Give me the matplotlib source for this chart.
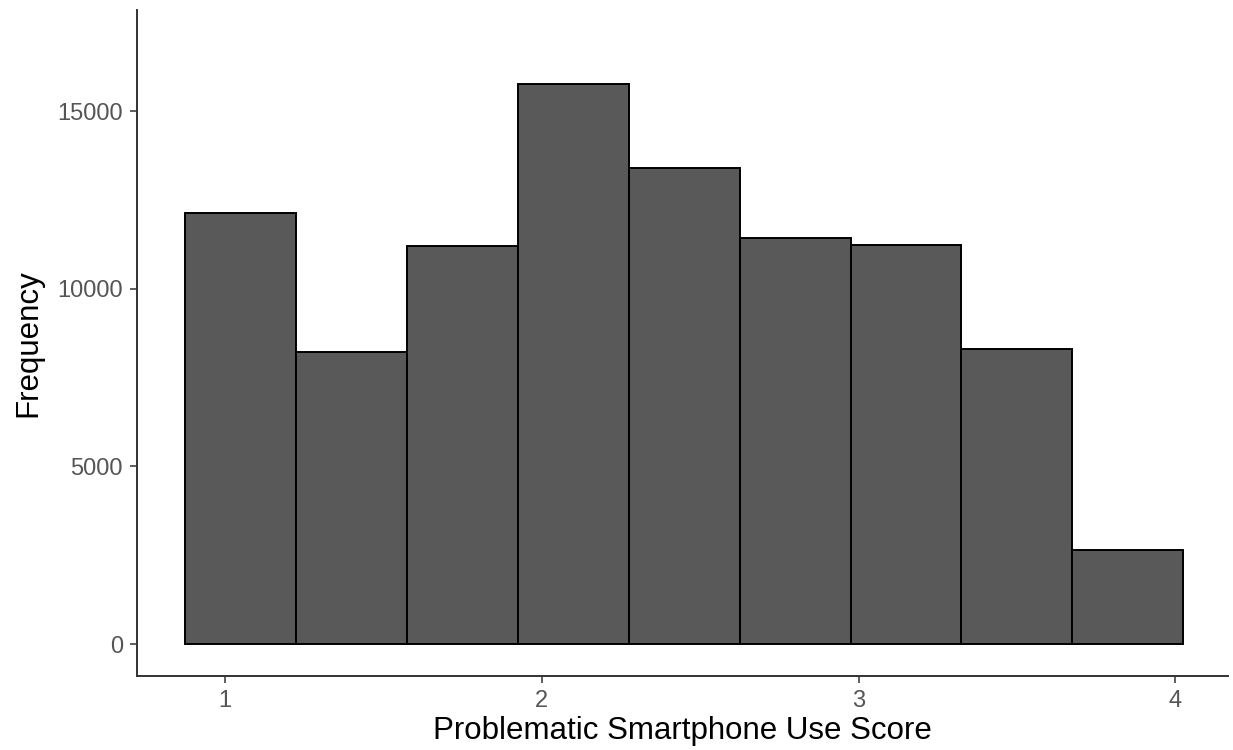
import numpy as np
import matplotlib.pyplot as plt

# Histogram data
bin_edges = [0.875, 1.225, 1.575, 1.925, 2.275, 2.625, 2.975, 3.325, 3.675, 4.025]
counts = [12130, 8220, 11200, 15760, 13390, 11420, 11230, 8300, 2650]
x_ticks = [1, 2, 3, 4]
y_ticks = [0, 5000, 10000, 15000]

plt.rcParams['font.family'] = ['Liberation Sans', 'DejaVu Sans']

fig = plt.figure(figsize=(12.33, 7.5), dpi=100)
ax = fig.add_axes([0.1111, 0.0987, 0.885, 0.888])

edges = np.array(bin_edges)
ax.bar(edges[:-1], counts, width=np.diff(edges), align='edge',
       color='#595959', edgecolor='black', linewidth=1.4)

ax.set_xlim(0.722, 4.167)
ax.set_ylim(-900, 17850)
ax.set_xticks(x_ticks)
ax.set_yticks(y_ticks)

for side in ['top', 'right']:
    ax.spines[side].set_visible(False)
for side in ['left', 'bottom']:
    ax.spines[side].set_color('#333333')
    ax.spines[side].set_linewidth(1.4)

ax.tick_params(axis='both', colors='#333333', length=5, width=1.1,
               labelsize=17, labelcolor='#555555', pad=5)

ax.set_xlabel('Problematic Smartphone Use Score', fontsize=22.5, labelpad=3)
ax.set_ylabel('Frequency', fontsize=22.5, labelpad=10)

fig.savefig('out.png', dpi=100)
